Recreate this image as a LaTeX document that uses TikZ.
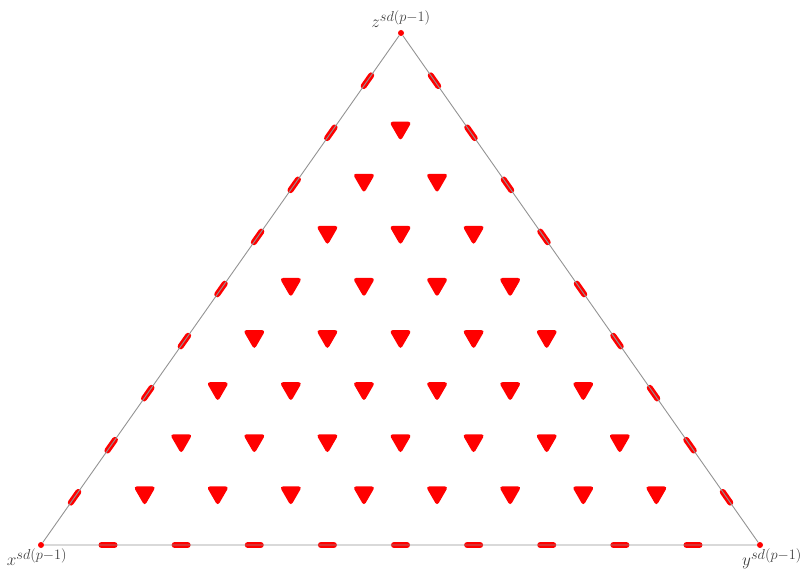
\documentclass[tikz,border=0pt]{standalone}
\usetikzlibrary{positioning,shapes.geometric,calc}

\begin{document}
\begin{tikzpicture}[
  x=1pt, y=1pt,
  vdot/.style={circle, fill=red, inner sep=0pt, minimum size=6pt},
  vlab/.style={font=\fontsize{19}{22}\selectfont, text=black!75, inner sep=1pt},
  eline/.style={gray!85, line width=0.9pt},
  edash/.style={red, line width=6pt, line cap=round},
  tmark/.style={regular polygon, regular polygon sides=3, shape border rotate=180,
                fill=red, rounded corners=3.5pt, inner sep=0pt, minimum size=26pt}
]
\useasboundingbox (0,0) rectangle (806,571);
% ----- corners -----
\node[vdot] (X) at (41,26) {};
\node[vdot] (Y) at (760,26) {};
\node[vdot] (Z) at (401,538) {};
\node[vlab, above=1pt of Z] (zlab) {$z^{sd(p-1)}$};
\node[vlab, below=-1pt of X, xshift=-4pt] (xlab) {$x^{sd(p-1)}$};
\node[vlab, below=-1pt of Y, xshift=12pt] (ylab) {$y^{sd(p-1)}$};
% ----- marks on the edges -----
\foreach \a/\b in {X/Y, X/Z, Y/Z}{
  \foreach \j in {-4,...,4}{
    \coordinate (m) at ($(\a)!{0.5+0.1017*\j}!(\b)$);
    \draw[edash] ($(m)!6.5pt!(\b)$) -- ($(m)!-6.5pt!(\b)$);
  }
}
\draw[eline] (X) -- (Y) -- (Z) -- (X);
% ----- inner marks, row by row -----
\foreach \j in {1,...,8}{
  \pgfmathtruncatemacro\n{9-\j}
  \foreach \i in {1,...,\n}
    \node[tmark] (t\i\j) at ({35+73.1*\i+36.55*\j}, {26+52.1*\j}) {};
}
\end{tikzpicture}
\end{document}
